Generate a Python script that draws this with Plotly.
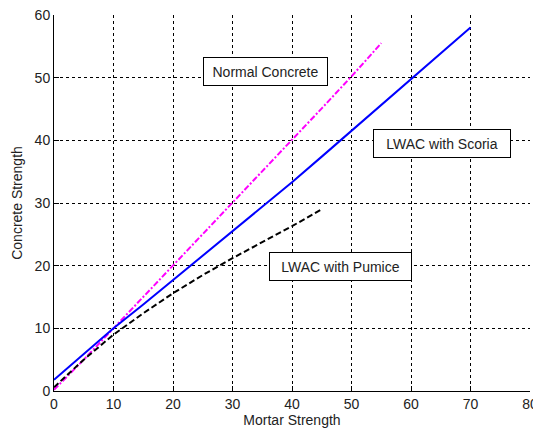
import plotly.graph_objects as go

# Data
scoria_x = [0, 5, 10, 15, 20, 25, 30, 35, 40, 45, 50, 55, 60, 65, 70]
scoria_y = [1.8, 5.9, 10.0, 13.8, 17.7, 21.5, 25.4, 29.3, 33.3, 37.4, 41.5, 45.6, 49.8, 53.9, 58.0]

normal_x = [0, 5, 10, 15, 20, 25, 30, 35, 40, 45, 50, 55]
normal_y = [0.2, 5.0, 10.0, 15.0, 20.0, 25.0, 30.0, 35.0, 40.1, 45.1, 50.2, 55.5]

pumice_x = [0, 5, 10, 15, 20, 25, 30, 35, 40, 45]
pumice_y = [0.6, 5.0, 9.0, 12.4, 15.6, 18.5, 21.2, 23.7, 26.3, 29.0]

labels = ["Normal Concrete", "LWAC with Scoria", "LWAC with Pumice"]
label_x = [35.5, 65.2, 48.2]
label_y = [51.0, 39.5, 19.8]
label_w = [111, 124, 129]

x_ticks = [0, 10, 20, 30, 40, 50, 60, 70, 80]
y_ticks = [0, 10, 20, 30, 40, 50, 60]

FONT = "Liberation Sans, Arial, sans-serif"

fig = go.Figure()
fig.add_trace(go.Scatter(x=normal_x, y=normal_y, mode="lines",
                         line=dict(color="#ff00ff", width=2, dash="6px,2px,2px,2px"),
                         showlegend=False))
fig.add_trace(go.Scatter(x=scoria_x, y=scoria_y, mode="lines",
                         line=dict(color="#0000ff", width=2),
                         showlegend=False))
fig.add_trace(go.Scatter(x=pumice_x, y=pumice_y, mode="lines",
                         line=dict(color="#000000", width=2, dash="6px,3px"),
                         showlegend=False))

for t, xx, yy, w in zip(labels, label_x, label_y, label_w):
    fig.add_annotation(x=xx, y=yy, text=t, showarrow=False,
                       font=dict(family=FONT, size=14, color="#222222"),
                       bgcolor="white", bordercolor="black", borderwidth=1,
                       borderpad=6, width=w, height=15)

axis_common = dict(
    showgrid=True, gridcolor="black", gridwidth=1, griddash="3px,3px",
    showline=True, linecolor="black", linewidth=1,
    ticks="inside", ticklen=5, tickcolor="black",
    tickfont=dict(family=FONT, size=14, color="#222222"),
    zeroline=False, mirror=False, ticklabeloverflow="allow",
    automargin=False,
)

fig.update_xaxes(range=[0, 80], tickvals=x_ticks, ticklabelstandoff=0, **axis_common,
                 title=dict(text="Mortar Strength", font=dict(family=FONT, size=14, color="#222222"), standoff=4))
fig.update_yaxes(range=[0, 60], tickvals=y_ticks, **axis_common,
                 title=dict(text="Concrete Strength", font=dict(family=FONT, size=14, color="#222222"), standoff=8))

fig.update_layout(
    width=533, height=429,
    margin=dict(l=54, r=3, t=15, b=38),
    paper_bgcolor="white", plot_bgcolor="white",
)

fig.write_html("out.html")
